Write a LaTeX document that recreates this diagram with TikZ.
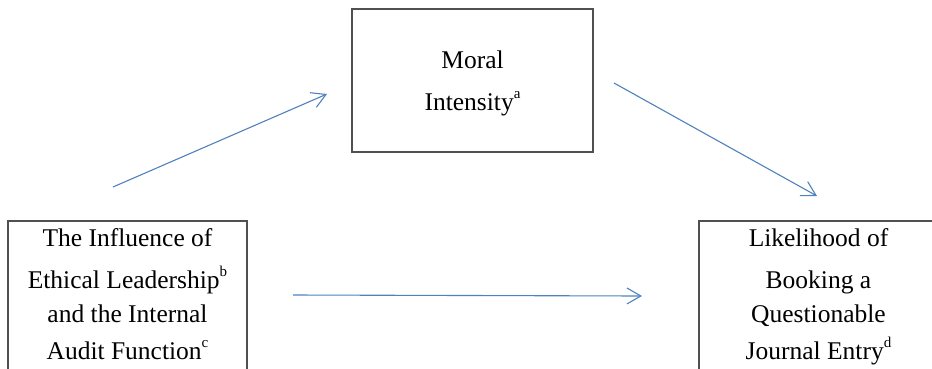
\documentclass[tikz,border=0pt]{standalone}
\usepackage{fontspec}
\setmainfont{Liberation Serif}
\usetikzlibrary{arrows.meta}
\definecolor{linkblue}{RGB}{79,129,189}
\definecolor{boxgray}{RGB}{80,80,80}
\newcommand\supnote[1]{\raisebox{12pt}{\fontsize{15}{15}\selectfont #1}}

\begin{document}
\begin{tikzpicture}[x=1pt,y=-1pt]
				\tikzstyle{factor}=[rectangle,draw=boxgray,line width=1.5pt,align=center,font=\fontsize{25.5}{38}\selectfont,inner xsep=0pt,inner ysep=7.6pt,anchor=north]
				\tikzstyle{link}=[draw=linkblue,line width=1.1pt,-{Straight Barb[length=14pt,width=16pt]}]
				\useasboundingbox (0,0) rectangle (932,368);
				\clip (0,0) rectangle (932,368);
				\node[factor,minimum width=239pt] (influence) at (127.5,220) {\rule{0pt}{18pt}The Influence of\\[4pt] Ethical Leadership\supnote{b}\\[-4pt] and the Internal\\[-1pt] Audit Function\supnote{c}\rule[-14pt]{0pt}{14pt}};
				\node[factor,minimum width=239pt] (likelihood) at (818.5,220) {\rule{0pt}{18pt}Likelihood of\\[4pt] Booking a\\[-4pt] Questionable\\[-1pt] Journal Entry\supnote{d}\rule[-14pt]{0pt}{14pt}};
				\node[factor,anchor=center,minimum width=241pt,minimum height=143pt] (intensity) at (472.5,80.5) {\rule{0pt}{23.5pt}Moral\\[4pt] Intensity\supnote{a}};
				\coordinate (up start) at (113,187);
				\coordinate (up end) at (327,94);
				\coordinate (down start) at (614,83);
				\coordinate (down end) at (817,196);
				\coordinate (direct start) at (293,295);
				\coordinate (direct end) at (642,296);
				\draw[link] (up start) -- (up end);
				\draw[link] (down start) -- (down end);
				\draw[link] (direct start) -- (direct end);
				
				;\end{tikzpicture}
\end{document}
